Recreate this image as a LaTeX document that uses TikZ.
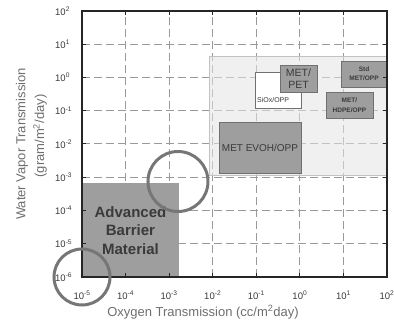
\documentclass[tikz,border=0pt]{standalone}
\usepackage{fontspec}
\setmainfont{Liberation Sans}
\usetikzlibrary{calc}

\definecolor{gridgray}{HTML}{9A9A9A}
\definecolor{zonegray}{HTML}{E4E4E4}
\definecolor{boxgray}{HTML}{9E9E9E}
\definecolor{boxedge}{HTML}{707070}
\definecolor{ringgray}{HTML}{767676}
\definecolor{labelgray}{HTML}{6E6E6E}
\definecolor{inkgray}{HTML}{3A3A3A}

\tikzset{
  grid line/.style={gridgray, line width=1pt, dash pattern=on 8pt off 4pt},
  film box/.style={draw=boxedge, fill=boxgray, line width=0.8pt},
  ring/.style={ringgray, line width=3pt},
  tick label/.style={text=inkgray, font=\fontsize{9.5}{11}\selectfont, inner sep=0pt},
  axis label/.style={text=labelgray, font=\fontsize{13}{15}\selectfont, inner sep=0pt},
  film label/.style={text=inkgray, align=center, inner sep=0pt},
}

\begin{document}
\begin{tikzpicture}

  \useasboundingbox (0,0) rectangle (394pt,-323pt);

  % --- Plot area: one unit = one decade, origin at (1e-5, 1e-6) ---
  \begin{scope}[shift={(82pt,-277pt)}, x=43.571pt, y=33.25pt]

  \coordinate (O) at (0,0);
  \coordinate (TR) at (7,8);

  % --- Dashed grid ---
  \foreach \u in {1,...,6}
    \draw[grid line] (\u,0) -- (\u,8);
  \foreach \v in {1,...,7}
    \draw[grid line] (0,\v) -- (7,\v);

  % --- Light zone of present films ---
  \coordinate (Z1) at (2.915,3.068);
  \coordinate (Z2) at (7,6.647);
  \fill[zonegray, fill opacity=0.55] (Z1) rectangle (Z2);
  \draw[gridgray!60, line width=0.8pt] (Z1) rectangle (Z2);

  % --- Film boxes ---
  \coordinate (E1) at (3.144,3.128);
  \coordinate (E2) at (5.026,4.662);
  \draw[film box] (E1) rectangle (E2);
  \node[film label, font=\fontsize{10}{12}\selectfont] (evoh) at ($(E1)!0.5!(E2)$) {MET EVOH/OPP};

  \coordinate (S1) at (3.970,5.083);
  \coordinate (S2) at (5.026,6.165);
  \draw[fill=white, draw=boxedge, line width=0.8pt] (S1) rectangle (S2);
  \node[film label, anchor=south west, font=\fontsize{7}{8}\selectfont] (siox) at ($(S1)+(2pt,5pt)$) {SiOx/OPP};

  \coordinate (P1) at (4.544,5.564);
  \coordinate (P2) at (5.393,6.376);
  \draw[film box] (P1) rectangle (P2);
  \node[film label, font=\fontsize{10.5}{12}\selectfont] (metpet) at ($(P1)!0.5!(P2)$) {MET/\\PET};

  \coordinate (M1) at (5.944,5.714);
  \coordinate (M2) at (7,6.496);
  \draw[film box] (M1) rectangle (M2);
  \node[film label, font=\bfseries\fontsize{6.5}{9}\selectfont] (stdopp) at ($(M1)!0.5!(M2)$) {Std\\MET/OPP};

  \coordinate (H1) at (5.600,4.782);
  \coordinate (H2) at (6.679,5.564);
  \draw[film box] (H1) rectangle (H2);
  \node[film label, font=\bfseries\fontsize{6.5}{10}\selectfont] (hdpe) at ($(H1)!0.5!(H2)$) {MET/\\HDPE/OPP};

  % --- Target region ---
  \coordinate (A1) at (0,0.03);
  \coordinate (A2) at (2.226,2.827);
  \fill[boxgray] (A1) rectangle (A2);
  \node[film label, font=\bfseries\fontsize{15}{18.5}\selectfont] (abm) at ($(A1)!0.5!(A2)+(0,-1pt)$) {Advanced\\Barrier\\Material};

  % --- Frame and ticks ---
  \draw[black!85, line width=1.4pt] (O) rectangle (TR);
  \foreach \u in {1,...,6} {
    \draw[black!85, line width=1pt] (\u,0) -- ++(0,4pt);
    \draw[black!85, line width=1pt] (\u,8) -- ++(0,-4pt);
  }
  \foreach \v in {1,...,7} {
    \draw[black!85, line width=1pt] (0,\v) -- ++(4pt,0);
    \draw[black!85, line width=1pt] (7,\v) -- ++(-4pt,0);
  }

  % --- Tick labels ---
  \foreach \u in {0,...,7} {
    \pgfmathtruncatemacro\e{\u-5}
    \node[tick label] (xl\u) at ($(\u,0)+(0,-18pt)$) {10\textsuperscript{\e}};
  }
  \foreach \v in {0,...,8} {
    \pgfmathtruncatemacro\e{\v-6}
    \node[tick label, anchor=west] (yl\v) at ($(0,\v)+(-27pt,0)$) {10\textsuperscript{\e}};
  }

  % --- Rings ---
  \draw[ring] (O) circle[radius=28pt];
  \coordinate (gap) at (2.203,2.872);
  \draw[ring] (gap) circle[radius=30pt];

  \end{scope}

  % --- Axis titles ---
  \node[axis label, rotate=90] (ytitle) at (22pt,-144pt) {Water Vapor Transmission};
  \node[axis label, rotate=90] (yunit) at (40pt,-136pt) {(gram/m\textsuperscript{2}/day)};
  \node[axis label] (xtitle) at (203pt,-312pt) {Oxygen Transmission (cc/m\textsuperscript{2}day)};

\end{tikzpicture}
\end{document}
